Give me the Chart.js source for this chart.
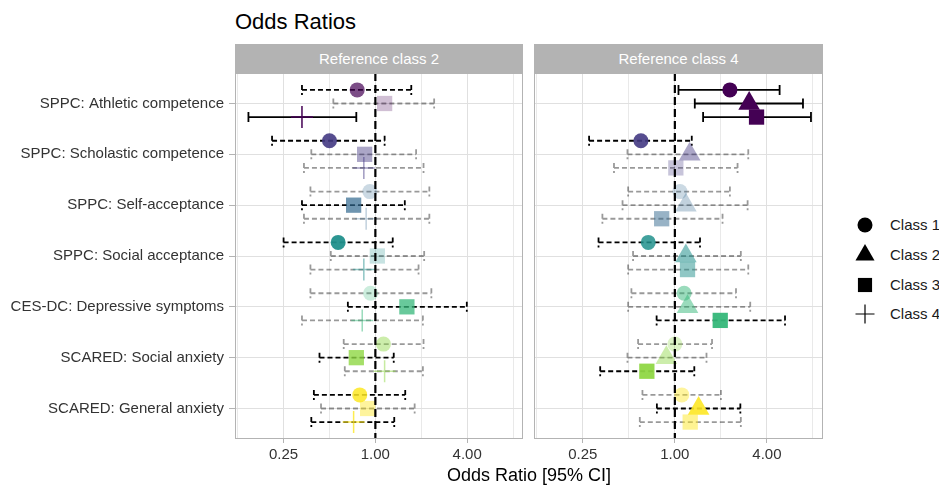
<!DOCTYPE html>
<html>
<head>
<meta charset="utf-8">
<title>Odds Ratios</title>
<script src="https://cdn.jsdelivr.net/npm/chart.js"></script>
<style>
  html, body { margin: 0; padding: 0; background: #fff; }
  body { width: 939px; height: 487px; position: relative; overflow: hidden; font-family: "Liberation Sans", Arial, sans-serif; }
  .abs { position: absolute; }
  #title { left: 235px; top: 8px; font-size: 22px; line-height: 28px; color: #000; }
  .strip { top: 44px; height: 29px; line-height: 29px; background: #b3b3b3; color: #fff; font-size: 15px; text-align: center; }
  #xtitle { left: 235px; width: 588px; top: 464px; font-size: 18px; line-height: 22px; text-align: center; color: #000; }
  .legtxt { left: 890px; font-size: 15px; line-height: 18px; color: #1a1a1a; white-space: nowrap; }
</style>
</head>
<body>
<div id="title" class="abs">Odds Ratios</div>
<div class="abs strip" style="left:235px;width:288px">Reference class 2</div>
<div class="abs strip" style="left:534px;width:289px">Reference class 4</div>
<canvas id="panelRef2" class="abs" width="528" height="426" style="left:0;top:44px"></canvas>
<canvas id="panelRef4" class="abs" width="300" height="426" style="left:529px;top:44px"></canvas>
<div id="xtitle" class="abs">Odds Ratio [95% CI]</div>
<canvas id="legendMarks" class="abs" width="40" height="125" style="left:845px;top:205px"></canvas>
<div id="legendText"></div>

<script>
// rows, top to bottom
var categories = [
    'SPPC: Athletic competence',
    'SPPC: Scholastic competence',
    'SPPC: Self-acceptance',
    'SPPC: Social acceptance',
    'CES-DC: Depressive symptoms',
    'SCARED: Social anxiety',
    'SCARED: General anxiety'
];

// x axis (log scale)
var xBreaks = [0.25, 1, 4];
var xBreakLabels = ['0.25', '1.00', '4.00'];
var xMinorBreaks = [0.125, 0.5, 2, 8];
var refOR = 1;

// sig: 0 = not significant (grey bar), 1 = dashed black bar, 2 = significant (solid bar)
// alpha: opacity of the marker

// panel "Reference class 2"
var ref2Class1OR    = [0.76, 0.50, 0.92, 0.57, 0.93, 1.13, 0.79];
var ref2Class1Lo    = [0.33, 0.21, 0.375, 0.25, 0.375, 0.62, 0.395];
var ref2Class1Hi    = [1.72, 1.15, 2.26, 1.30, 2.33, 2.07, 1.57];
var ref2Class1Sig   = [1, 1, 0, 1, 0, 0, 1];
var ref2Class1Alpha = [0.7, 0.9, 0.25, 0.95, 0.25, 0.45, 0.85];

var ref2Class3OR    = [1.15, 0.85, 0.72, 1.03, 1.61, 0.75, 0.89];
var ref2Class3Lo    = [0.53, 0.38, 0.33, 0.51, 0.66, 0.43, 0.44];
var ref2Class3Hi    = [2.43, 1.85, 1.56, 2.09, 3.98, 1.32, 1.81];
var ref2Class3Sig   = [0, 0, 1, 0, 1, 1, 0];
var ref2Class3Alpha = [0.25, 0.45, 0.7, 0.25, 0.75, 0.8, 0.45];

var ref2Class4OR    = [0.33, 0.84, 0.87, 0.84, 0.82, 1.15, 0.72];
var ref2Class4Lo    = [0.147, 0.34, 0.34, 0.375, 0.33, 0.63, 0.38];
var ref2Class4Hi    = [0.75, 2.07, 2.26, 1.92, 2.05, 2.05, 1.33];
var ref2Class4Sig   = [2, 0, 0, 0, 0, 0, 1];
var ref2Class4Alpha = [1, 0.5, 0.3, 0.5, 0.5, 0.5, 0.8];

// panel "Reference class 4"
var ref4Class1OR    = [2.29, 0.60, 1.08, 0.67, 1.15, 1.00, 1.11];
var ref4Class1Lo    = [1.056, 0.275, 0.495, 0.317, 0.52, 0.575, 0.614];
var ref4Class1Hi    = [4.84, 1.29, 2.29, 1.46, 2.51, 1.75, 2.00];
var ref4Class1Sig   = [2, 1, 0, 1, 0, 0, 0];
var ref4Class1Alpha = [1, 0.9, 0.25, 0.85, 0.5, 0.3, 0.45];

var ref4Class2OR    = [3.06, 1.25, 1.18, 1.18, 1.21, 0.88, 1.43];
var ref4Class2Lo    = [1.35, 0.49, 0.455, 0.533, 0.495, 0.49, 0.763];
var ref4Class2Hi    = [6.88, 3.02, 2.99, 2.70, 3.11, 1.61, 2.68];
var ref4Class2Sig   = [2, 0, 0, 0, 0, 0, 1];
var ref4Class2Alpha = [1, 0.45, 0.3, 0.55, 0.5, 0.45, 0.9];

var ref4Class3OR    = [3.42, 1.015, 0.82, 1.21, 1.98, 0.656, 1.26];
var ref4Class3Lo    = [1.53, 0.40, 0.336, 0.495, 0.76, 0.325, 0.59];
var ref4Class3Hi    = [7.76, 2.57, 2.05, 3.02, 5.25, 1.34, 2.70];
var ref4Class3Sig   = [2, 0, 0, 0, 1, 1, 0];
var ref4Class3Alpha = [1, 0.3, 0.5, 0.5, 0.95, 0.95, 0.5];

// styles
var rowColors = ['#440154', '#443A83', '#31688E', '#21908C', '#35B779', '#8FD744', '#FDE725'];
var classStyles = {
    1: { shape: 'circle', radius: 7.5 },
    2: { shape: 'triangle', radius: 12.5 },
    3: { shape: 'rect', radius: 10.8 },
    4: { shape: 'cross', radius: 11 }
};
var yMin = -0.6, yMax = 6.6;
var dodge = 0.267;
var textColor = '#333333';

Chart.defaults.font.family = '"Liberation Sans", Arial, sans-serif';
Chart.defaults.font.size = 15;

function rgba(hex, a) {
    var n = parseInt(hex.slice(1), 16);
    return 'rgba(' + (n >> 16) + ',' + ((n >> 8) & 255) + ',' + (n & 255) + ',' + a + ')';
}

function pointColor(ctx) {
    if (!ctx.raw) return 'rgba(0,0,0,0)';
    return rgba(rowColors[ctx.raw.row], ctx.raw.alpha);
}

function makeSeries(cls, or, lo, hi, sig, alpha, offset) {
    var st = classStyles[cls];
    return {
        label: 'Class ' + cls,
        data: or.map(function(v, i) {
            return { x: v, y: i + offset, lo: lo[i], hi: hi[i], sig: sig[i], alpha: alpha[i], row: i };
        }),
        errorBars: true,
        // later classes on top, like ggplot's group order
        order: offset > 0 ? 1 : offset < 0 ? 3 : 2,
        pointStyle: st.shape,
        pointRadius: st.radius,
        pointHoverRadius: st.radius,
        pointBorderWidth: st.shape === 'cross' ? 1.5 : 0,
        pointBackgroundColor: pointColor,
        pointBorderColor: pointColor
    };
}

// error bars drawn under the points, positions from the chart scales
var errorBarPlugin = {
    id: 'errorBars',
    beforeDatasetsDraw: function(chart) {
        var ctx = chart.ctx, x = chart.scales.x, y = chart.scales.y, a = chart.chartArea;
        ctx.save();
        ctx.beginPath();
        ctx.rect(a.left, a.top, a.right - a.left, a.bottom - a.top);
        ctx.clip();
        ctx.lineWidth = 1.8;
        chart.data.datasets.forEach(function(ds) {
            if (!ds.errorBars) return;
            ds.data.forEach(function(p) {
                var yp = y.getPixelForValue(p.y);
                var x0 = x.getPixelForValue(p.lo);
                var x1 = x.getPixelForValue(p.hi);
                ctx.strokeStyle = p.sig === 0 ? 'rgba(0,0,0,0.4)' : '#000';
                ctx.setLineDash(p.sig === 2 ? [] : [5, 3]);
                ctx.beginPath();
                ctx.moveTo(x0, yp - 5); ctx.lineTo(x0, yp + 5);
                ctx.moveTo(x0, yp); ctx.lineTo(x1, yp);
                ctx.moveTo(x1, yp - 5); ctx.lineTo(x1, yp + 5);
                ctx.stroke();
            });
        });
        ctx.restore();
    }
};

var panelBorderPlugin = {
    id: 'panelBorder',
    afterDraw: function(chart) {
        var a = chart.chartArea, ctx = chart.ctx;
        ctx.save();
        ctx.strokeStyle = '#b3b3b3';
        ctx.lineWidth = 1;
        ctx.strokeRect(Math.round(a.left) + 0.5, Math.round(a.top) + 0.5,
            Math.round(a.right - a.left) - 1, Math.round(a.bottom - a.top) - 1);
        ctx.restore();
    }
};

function isMajor(v) {
    return xBreaks.indexOf(v) !== -1;
}

function buildPanel(canvasId, datasets, isLeft) {
    var refLine = {
        data: [{ x: refOR, y: yMin }, { x: refOR, y: yMax }],
        showLine: true,
        borderColor: '#000',
        borderWidth: 2.2,
        borderDash: [8, 4],
        pointRadius: 0,
        order: -1
    };
    return new Chart(document.getElementById(canvasId), {
        type: 'scatter',
        data: { datasets: datasets.concat([refLine]) },
        options: {
            responsive: false,
            animation: false,
            events: [],
            layout: {
                autoPadding: false,
                padding: { top: 29, right: isLeft ? 5 : 6, bottom: 0, left: isLeft ? 0 : 5 }
            },
            plugins: { legend: { display: false }, tooltip: { enabled: false } },
            scales: {
                x: {
                    type: 'logarithmic',
                    min: 0.12,
                    max: 9.3,
                    bounds: 'data',
                    afterBuildTicks: function(s) {
                        s.ticks = xMinorBreaks.concat(xBreaks).sort(function(a, b) { return a - b; })
                            .map(function(v) { return { value: v }; });
                    },
                    afterFit: function(s) { s.height = 31; },
                    ticks: {
                        autoSkip: false,
                        maxRotation: 0,
                        padding: 3,
                        color: textColor,
                        callback: function(v) {
                            var i = xBreaks.indexOf(v);
                            return i === -1 ? '' : xBreakLabels[i];
                        }
                    },
                    grid: {
                        color: '#e0e0e0',
                        lineWidth: function(c) { return c.tick && isMajor(c.tick.value) ? 1 : 0.7; },
                        tickLength: 4,
                        tickColor: function(c) { return c.tick && isMajor(c.tick.value) ? '#b3b3b3' : 'rgba(0,0,0,0)'; }
                    },
                    border: { display: false }
                },
                y: {
                    type: 'linear',
                    min: yMin,
                    max: yMax,
                    reverse: true,
                    bounds: 'data',
                    afterBuildTicks: function(s) {
                        s.ticks = categories.map(function(c, i) { return { value: i }; });
                    },
                    afterFit: function(s) { s.width = isLeft ? 235 : 0; },
                    ticks: {
                        display: isLeft,
                        autoSkip: false,
                        padding: 5,
                        color: textColor,
                        callback: function(v) { return categories[v]; }
                    },
                    grid: {
                        color: '#e0e0e0',
                        lineWidth: 1,
                        drawTicks: isLeft,
                        tickLength: 6,
                        tickColor: '#b3b3b3'
                    },
                    border: { display: false }
                }
            }
        },
        plugins: [errorBarPlugin, panelBorderPlugin]
    });
}

buildPanel('panelRef2', [
    makeSeries(1, ref2Class1OR, ref2Class1Lo, ref2Class1Hi, ref2Class1Sig, ref2Class1Alpha, -dodge),
    makeSeries(3, ref2Class3OR, ref2Class3Lo, ref2Class3Hi, ref2Class3Sig, ref2Class3Alpha, 0),
    makeSeries(4, ref2Class4OR, ref2Class4Lo, ref2Class4Hi, ref2Class4Sig, ref2Class4Alpha, dodge)
], true);

buildPanel('panelRef4', [
    makeSeries(1, ref4Class1OR, ref4Class1Lo, ref4Class1Hi, ref4Class1Sig, ref4Class1Alpha, -dodge),
    makeSeries(2, ref4Class2OR, ref4Class2Lo, ref4Class2Hi, ref4Class2Sig, ref4Class2Alpha, 0),
    makeSeries(3, ref4Class3OR, ref4Class3Lo, ref4Class3Hi, ref4Class3Sig, ref4Class3Alpha, dodge)
], false);

// legend: markers with Chart.js point drawing, labels as html text
(function drawLegend() {
    var items = [
        { label: 'Class 1', shape: 'circle', radius: 7.5 },
        { label: 'Class 2', shape: 'triangle', radius: 11 },
        { label: 'Class 3', shape: 'rect', radius: 10 },
        { label: 'Class 4', shape: 'cross', radius: 9.5 }
    ];
    var rowY = [225, 255, 285, 314];
    var ctx = document.getElementById('legendMarks').getContext('2d');
    var holder = document.getElementById('legendText');
    ctx.fillStyle = '#000';
    ctx.strokeStyle = '#000';
    ctx.lineWidth = 1.2;
    items.forEach(function(it, i) {
        var opts = { pointStyle: it.shape, radius: it.radius, rotation: 0, borderWidth: it.shape === 'cross' ? 1.2 : 0 };
        if (Chart.helpers && Chart.helpers.drawPoint) {
            Chart.helpers.drawPoint(ctx, opts, 20, rowY[i] - 205);
        }
        var d = document.createElement('div');
        d.className = 'abs legtxt';
        d.style.top = (rowY[i] - 9) + 'px';
        d.textContent = it.label;
        holder.appendChild(d);
    });
})();
</script>
</body>
</html>
